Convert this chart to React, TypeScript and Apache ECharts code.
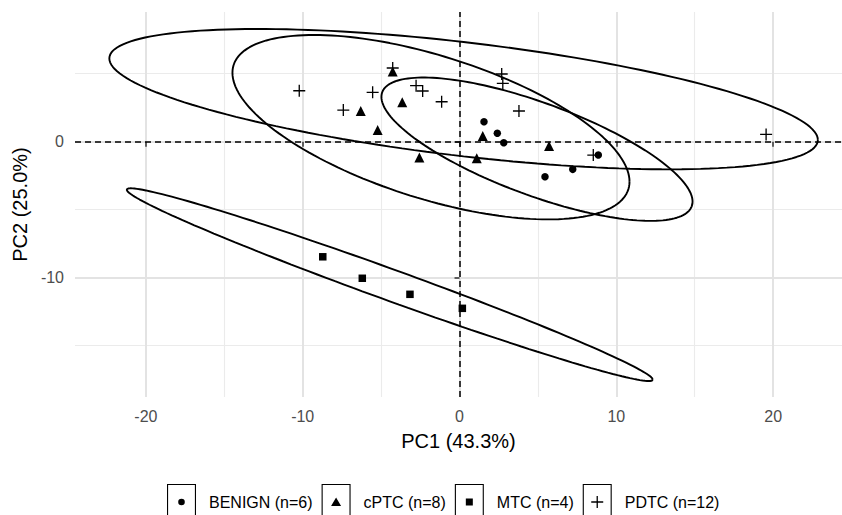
import React, { useEffect, useRef } from "react";
import * as echarts from "echarts";

const groups = ["BENIGN (n=6)", "cPTC (n=8)", "MTC (n=4)", "PDTC (n=12)"];

const benignPC1 = [1.56, 2.41, 2.82, 5.45, 7.22, 8.85];
const benignPC2 = [1.47, 0.62, -0.07, -2.57, -2.03, -0.98];
const cptcPC1 = [-6.3, -5.22, -4.26, -3.65, -2.56, 1.48, 1.1, 5.71];
const cptcPC2 = [2.26, 0.86, 5.16, 2.9, -1.15, 0.42, -1.22, -0.32];
const mtcPC1 = [-8.72, -6.2, -3.16, 0.18];
const mtcPC2 = [-8.46, -10.04, -11.22, -12.25];
const pdtcPC1 = [-10.22, -7.41, -5.54, -4.26, -2.77, -2.35, -1.14, 2.69, 2.76, 3.79, 8.53, 19.55];
const pdtcPC2 = [3.75, 2.33, 3.63, 5.42, 4.12, 3.73, 2.94, 4.98, 4.29, 2.26, -0.98, 0.54];

// 95% ellipses: centre, half-width, half-height, correlation
const ellipseCenterX = [4.94, -1.82, -4.45, 0.26];
const ellipseCenterY = [-0.55, 1.07, -10.51, 3.13];
const ellipseHalfWidth = [9.92, 12.66, 16.77, 22.59];
const ellipseHalfHeight = [5.27, 6.78, 7.085, 5.16];
const ellipseRho = [-0.73, -0.59, -0.985, -0.58];

const xMajorTicks = [-20, -10, 0, 10, 20];
const xMinorBreaks = [-15, -5, 5, 15];
const yMajorTicks = [-10, 0];
const yMinorBreaks = [-15, -5, 5];
const xLimits = [-24.52, 24.39];
const yLimits = [-18.77, 9.54];

const FONT = "'Liberation Sans', Arial, Helvetica, sans-serif";

const pointSymbols = [
  "circle",
  "triangle",
  "rect",
  "path://M4.45,0H5.55V4.45H10V5.55H5.55V10H4.45V5.55H0V4.45H4.45Z",
];
const pointSizes = [7.5, 10, 7.5, 12];

const frame = "M0,0H29V36H0ZM1.1,1.1V34.9H27.9V1.1Z";
const legendIcons = [
  "path://" + frame + "M17.8,18A3.3,3.3,0,1,1,11.2,18A3.3,3.3,0,1,1,17.8,18Z",
  "path://" + frame + "M14.5,13.5L19.5,22H9.5Z",
  "path://" + frame + "M11,14.5H18V21.5H11Z",
  "path://" + frame + "M13.85,12H15.15V17.35H20.5V18.65H15.15V24H13.85V18.65H8.5V17.35H13.85Z",
];

function ellipsePoints(i: number): number[][] {
  const out: number[][] = [];
  const n = 180;
  const cx = ellipseCenterX[i];
  const cy = ellipseCenterY[i];
  const a = ellipseHalfWidth[i];
  const b = ellipseHalfHeight[i];
  const r = ellipseRho[i];
  const s = Math.sqrt(1 - r * r);
  for (let k = 0; k <= n; k++) {
    const t = (2 * Math.PI * k) / n;
    out.push([cx + a * Math.cos(t), cy + b * (r * Math.cos(t) + s * Math.sin(t))]);
  }
  return out;
}

export default function App() {
  const ref = useRef<HTMLDivElement>(null);
  useEffect(() => {
    if (!ref.current) return;
    const chart = echarts.init(ref.current, null, { renderer: "svg" });
    const pcs = [
      [benignPC1, benignPC2],
      [cptcPC1, cptcPC2],
      [mtcPC1, mtcPC2],
      [pdtcPC1, pdtcPC2],
    ];
    const gridData: any[] = [];
    xMinorBreaks.forEach((v) => gridData.push({ xAxis: v, lineStyle: { color: "#ebebeb", width: 1.1, type: "solid" } }));
    yMinorBreaks.forEach((v) => gridData.push({ yAxis: v, lineStyle: { color: "#ebebeb", width: 1.1, type: "solid" } }));
    xMajorTicks.forEach((v) => gridData.push({ xAxis: v, lineStyle: { color: "#e3e3e3", width: 2, type: "solid" } }));
    yMajorTicks.forEach((v) => gridData.push({ yAxis: v, lineStyle: { color: "#e3e3e3", width: 2, type: "solid" } }));

    const series: any[] = [
      {
        name: "grid",
        type: "scatter",
        z: 0,
        silent: true,
        data: [[0, 0]],
        symbolSize: 0,
        itemStyle: { opacity: 0 },
        markLine: {
          z: 0,
          silent: true,
          symbol: "none",
          label: { show: false },
          animation: false,
          data: gridData,
        },
      },
      {
        name: "zero",
        type: "scatter",
        z: 1,
        silent: true,
        data: [[0, 0]],
        symbolSize: 0,
        itemStyle: { opacity: 0 },
        markLine: {
          z: 1,
          silent: true,
          symbol: "none",
          label: { show: false },
          animation: false,
          lineStyle: { color: "#000", width: 1.5, type: [6, 4] },
          data: [{ xAxis: 0 }, { yAxis: 0 }],
        },
      },
    ];
    groups.forEach((g, i) => {
      series.push({
        name: "ellipse " + g,
        type: "line",
        z: 2,
        silent: true,
        showSymbol: false,
        symbol: "none",
        data: ellipsePoints(i),
        lineStyle: { color: "#000", width: 1.9 },
      });
    });
    groups.forEach((g, i) => {
      series.push({
        name: g,
        type: "scatter",
        z: 3,
        symbol: pointSymbols[i],
        symbolSize: pointSizes[i],
        itemStyle: { color: "#000", opacity: 1 },
        data: pcs[i][0].map((x, k) => [x, pcs[i][1][k]]),
      });
    });

    chart.setOption({
      animation: false,
      backgroundColor: "#fff",
      grid: { left: 75, top: 12, width: 767, height: 385 },
      xAxis: {
        type: "value",
        min: xLimits[0],
        max: xLimits[1],
        splitLine: { show: false },
        axisLine: { show: false },
        axisTick: { show: true, customValues: xMajorTicks, length: 5, lineStyle: { color: "#333", width: 1.5 } },
        axisLabel: { customValues: xMajorTicks, color: "#4d4d4d", fontSize: 16, fontFamily: FONT, margin: 11 },
        name: "PC1 (43.3%)",
        nameLocation: "middle",
        nameGap: 34,
        nameTextStyle: { color: "#000", fontSize: 20, fontFamily: FONT },
      },
      yAxis: {
        type: "value",
        min: yLimits[0],
        max: yLimits[1],
        splitLine: { show: false },
        axisLine: { show: false },
        axisTick: { show: true, customValues: yMajorTicks, length: 5, lineStyle: { color: "#333", width: 1.5 } },
        axisLabel: { customValues: yMajorTicks, color: "#4d4d4d", fontSize: 16, fontFamily: FONT, margin: 11 },
        name: "PC2 (25.0%)",
        nameLocation: "middle",
        nameGap: 37,
        nameTextStyle: { color: "#000", fontSize: 20, fontFamily: FONT },
      },
      legend: {
        data: groups.map((g, i) => ({ name: g, icon: legendIcons[i] })),
        left: 167,
        top: 484,
        padding: 0,
        itemWidth: 29,
        itemHeight: 36,
        itemGap: 9,
        selectedMode: false,
        itemStyle: { opacity: 1 },
        textStyle: { fontSize: 16, color: "#000", fontFamily: FONT, padding: [0, 0, 0, 8] },
      },
      series,
    });
    return () => chart.dispose();
  }, []);
  return (
    <div
      ref={ref}
      style={{ position: "fixed", left: 0, top: 0, width: 842, height: 515, background: "#fff" }}
    />
  );
}
